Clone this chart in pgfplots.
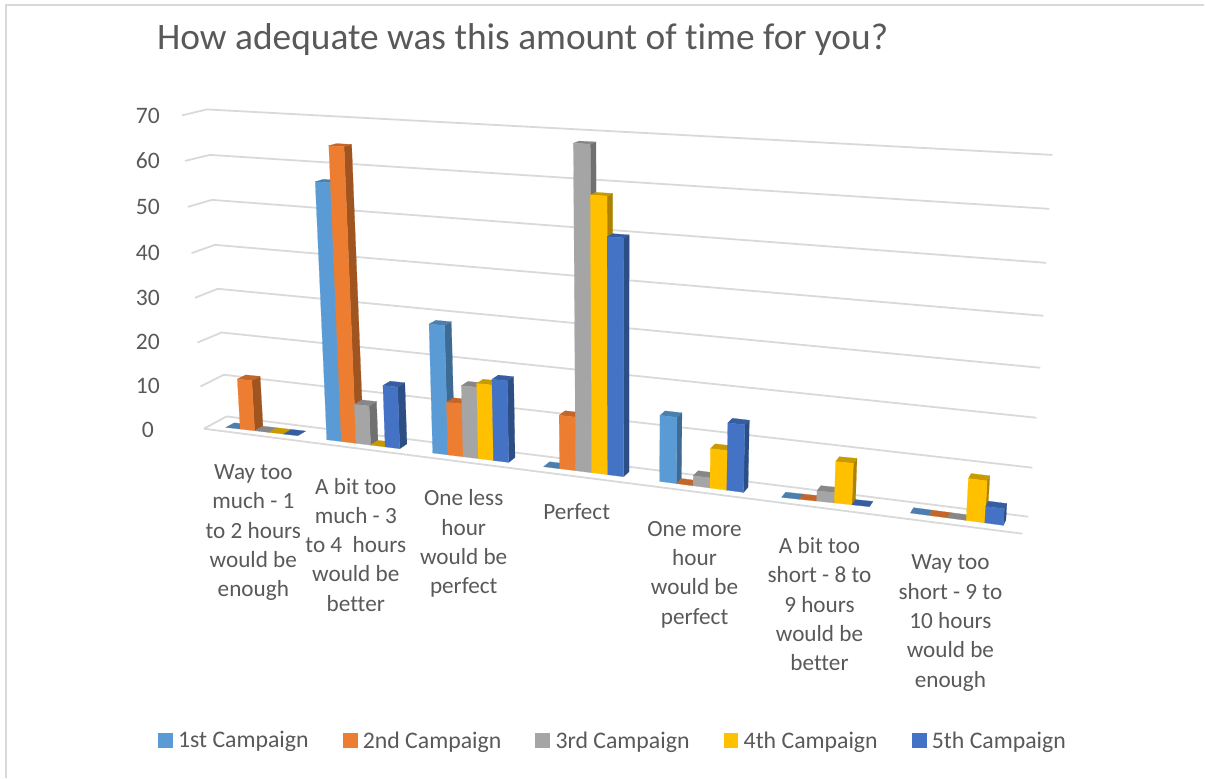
\documentclass[border=0pt]{standalone}
\usepackage{fontspec}
\setmainfont[Ligatures=NoCommon]{Carlito}
\usepackage{pgfplots}
\usepackage{pgfplotstable}
\pgfplotsset{compat=1.18}

% Series colours: front face, top face, side face
\definecolor{f0}{HTML}{5B9BD5}\definecolor{t0}{HTML}{4A7FAE}\definecolor{d0}{HTML}{3E6B94}
\definecolor{f1}{HTML}{ED7D31}\definecolor{t1}{HTML}{C2662A}\definecolor{d1}{HTML}{A0541F}
\definecolor{f2}{HTML}{A5A5A5}\definecolor{t2}{HTML}{878787}\definecolor{d2}{HTML}{707070}
\definecolor{f3}{HTML}{FFC000}\definecolor{t3}{HTML}{C99A00}\definecolor{d3}{HTML}{AD8200}
\definecolor{f4}{HTML}{4472C4}\definecolor{t4}{HTML}{375DA1}\definecolor{d4}{HTML}{2D4D85}
\definecolor{gridc}{HTML}{D9D9D9}
\definecolor{textc}{HTML}{595959}

% Answers in rows, campaigns in columns
\pgfplotstableread{
s0   s1   s2   s3   s4
0    10.9 0    0    0
55.2 63.1 8.3  0    13.0
27.0 11.0 14.8 15.6 16.8
0    10.9 66.6 56.3 48.1
13.2 0    2.0  7.8  13.3
0    0    2.0  8.0  0
0    0    0    7.9  3.1
}\answers

% Perspective of the floor and the wall
\pgfmathdeclarefunction{unitk}{1}{\pgfmathparse{1.04*(4.39+(#1-215)*0.00095)}}
\pgfmathdeclarefunction{lean}{1}{\pgfmathparse{(620-#1)*0.000152}}
\pgfmathdeclarefunction{depthx}{1}{\pgfmathparse{8.3-(#1-250)*0.0077}}
\pgfmathdeclarefunction{depthy}{1}{\pgfmathparse{-(2.2+(#1-145)*0.0085)}}

\newcommand{\face}[2]{%
  \edef\tmp{\noexpand\addplot[fill=#1,draw=#1,line width=0.2pt,forget plot] coordinates {#2} --cycle;}\tmp}

% #1 answer index, #2 campaign index, #3 value
\newcommand{\drawbar}[3]{%
  \pgfmathsetmacro\cx{{226,327,433,544,660,782,911}[#1]}%
  \pgfmathsetmacro\cw{{72,73,76,80,84,88,93}[#1]/5}%
  \pgfmathsetmacro\yl{{427.7,440,453.3,467,481.7,497.7,513.3}[#1]}%
  \pgfmathsetmacro\yr{{436,449,462.7,477,492.7,507,525.7}[#1]}%
  \pgfmathsetmacro\xa{\cx+#2*\cw}%
  \pgfmathsetmacro\xb{\xa+\cw}%
  \pgfmathsetmacro\ya{\yl+(\yr-\yl)*#2/5}%
  \pgfmathsetmacro\yb{\yl+(\yr-\yl)*(#2+1)/5}%
  \pgfmathsetmacro\ha{#3*unitk(\xa)}%
  \pgfmathsetmacro\hb{#3*unitk(\xb)}%
  \pgfmathsetmacro\xat{\xa-\ha*lean(\xa)}%
  \pgfmathsetmacro\xbt{\xb-\hb*lean(\xb)}%
  \pgfmathsetmacro\yat{\ya-\ha}%
  \pgfmathsetmacro\ybt{\yb-\hb}%
  \pgfmathsetmacro\xac{\xat+depthx(\xat)}%
  \pgfmathsetmacro\yac{\yat+depthy(\yat)}%
  \pgfmathsetmacro\xbc{\xbt+depthx(\xbt)}%
  \pgfmathsetmacro\ybc{\ybt+depthy(\ybt)}%
  \pgfmathsetmacro\xbf{\xb+depthx(\xb)}%
  \pgfmathsetmacro\ybf{\yb+depthy(\yb)}%
  \pgfmathparse{#3>0?1:0}\let\hasheight\pgfmathresult
  \ifnum\pdfstrcmp{\hasheight}{1}=0
    \face{d#2}{(\xb,\yb)(\xbt,\ybt)(\xbc,\ybc)(\xbf,\ybf)}%
  \fi
  \face{t#2}{(\xat,\yat)(\xbt,\ybt)(\xbc,\ybc)(\xac,\yac)}%
  \ifnum\pdfstrcmp{\hasheight}{1}=0
    \face{f#2}{(\xa,\ya)(\xb,\yb)(\xbt,\ybt)(\xat,\yat)}%
  \fi
}

\begin{document}
\begin{tikzpicture}
\begin{axis}[
  width=1205pt, height=778pt, scale only axis,
  xmin=0, xmax=1205, ymin=0, ymax=778, y dir=reverse,
  axis lines=none, clip=false,
  legend columns=5,
  legend style={at={(axis cs:158,741)}, anchor=west, draw=none, fill=none,
    font=\fontsize{23.8}{28}\selectfont\color{textc},
    /tikz/every even column/.append style={column sep=32pt},
    inner sep=0pt, outer sep=0pt},
  legend image code/.code={\fill[#1] (0pt,-7pt) rectangle (14pt,7pt);\path[draw=none,fill=none] (0pt,0pt) -- (18pt,0pt);},
]
% Page extent
\path (axis cs:0,0) rectangle (axis cs:1205,778);
% Outer frame
\addplot[gridc, line width=1.5pt, forget plot] coordinates {(1205,5)(6,5)(6,778)};
% Wall lines and the floor edge
\addplot[gridc, line width=1.8pt, forget plot] coordinates {(204,429)(226.7,416.7)(1029,517)};
\addplot[gridc, line width=1.8pt, forget plot] coordinates {(200.7,386.7)(224,375)(1033,468)};
\addplot[gridc, line width=1.8pt, forget plot] coordinates {(197.7,342.7)(221.7,332.7)(1037,418)};
\addplot[gridc, line width=1.8pt, forget plot] coordinates {(195,298)(218,289)(1041,368)};
\addplot[gridc, line width=1.8pt, forget plot] coordinates {(191.7,253.3)(215,245)(1044,316)};
\addplot[gridc, line width=1.8pt, forget plot] coordinates {(188,207)(212,200)(1047,263)};
\addplot[gridc, line width=1.8pt, forget plot] coordinates {(185,161)(210,155)(1050,209)};
\addplot[gridc, line width=1.8pt, forget plot] coordinates {(182,115.5)(207,109.5)(1053,155)};
\addplot[gridc, line width=1.8pt, forget plot] coordinates {(204,429)(1023,534)};

% Bars, answer by answer, from the left
\pgfplotsforeachungrouped \r in {0,...,6}{%
  \pgfplotsforeachungrouped \c in {0,...,4}{%
    \pgfplotstablegetelem{\r}{s\c}\of\answers
    \let\val\pgfplotsretval
    \drawbar{\r}{\c}{\val}%
  }%
}

% Legend swatches
\addlegendimage{f0}\addlegendentry{1st Campaign}
\addlegendimage{f1}\addlegendentry{2nd Campaign}
\addlegendimage{f2}\addlegendentry{3rd Campaign}
\addlegendimage{f3}\addlegendentry{4th Campaign}
\addlegendimage{f4}\addlegendentry{5th Campaign}

% Title
\node[text=textc, font=\fontsize{37.4}{44}\selectfont] at (axis cs:523,40) {How adequate was this amount of time for you?};

% Value scale along the wall
\tikzset{val/.style={text=textc, font=\fontsize{23.6}{28}\selectfont}}
\node[val] at (axis cs:148,116) {70};
\node[val] at (axis cs:148,161) {60};
\node[val] at (axis cs:148,207) {50};
\node[val] at (axis cs:148,253) {40};
\node[val] at (axis cs:148,298) {30};
\node[val] at (axis cs:148,342) {20};
\node[val] at (axis cs:148,386) {10};
\node[val] at (axis cs:148,430) {0};

% Answer labels under the clusters
\tikzset{cat/.style={text=textc, align=center, font=\fontsize{23.2}{29.3}\selectfont}}
\node[cat] at (axis cs:253.5,533) {Way too\\much - 1\\to 2 hours\\would be\\enough};
\node[cat] at (axis cs:356,545) {A bit too\\much - 3\\to 4\ \ hours\\would be\\better};
\node[cat] at (axis cs:464,544) {One less\\hour\\would be\\perfect};
\node[cat] at (axis cs:577,512) {Perfect};
\node[cat] at (axis cs:695,575) {One more\\hour\\would be\\perfect};
\node[cat] at (axis cs:820,604.5) {A bit too\\short - 8 to\\9 hours\\would be\\better};
\node[cat] at (axis cs:951,623.5) {Way too\\short - 9 to\\10 hours\\would be\\enough};
\end{axis}
\end{tikzpicture}
\end{document}
